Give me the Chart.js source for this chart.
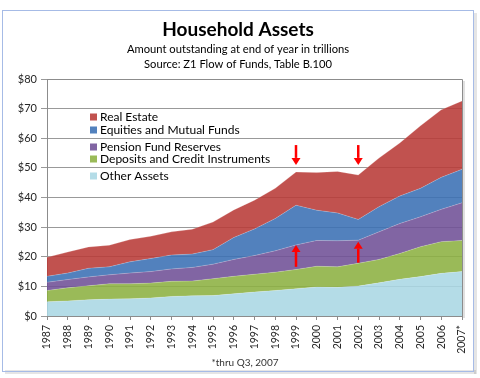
<!DOCTYPE html>
<html><head><meta charset="utf-8">
<script src="https://cdn.jsdelivr.net/npm/chart.js@4.4.0/dist/chart.umd.min.js"></script>
<style>html,body{margin:0;padding:0;background:#fff;}</style>
</head><body>
<canvas id="c" width="480" height="378"></canvas>
<script>
const years = ['1987','1988','1989','1990','1991','1992','1993','1994','1995','1996','1997','1998','1999','2000','2001','2002','2003','2004','2005','2006','2007*'];
const otherAssets   = [4.8,5.1,5.5,5.7,5.8,6.1,6.6,6.8,6.9,7.5,8.1,8.6,9.2,9.8,9.7,10.1,11.2,12.4,13.3,14.4,15.0];
const deposits      = [3.8,4.4,4.7,5.2,5.1,5.0,5.1,5.0,5.7,5.9,6.0,6.2,6.5,7.0,6.9,7.7,7.9,8.7,10.1,10.7,10.5];
const pension       = [2.8,2.8,3.0,3.0,3.6,3.9,4.2,4.6,4.9,5.7,6.3,7.2,8.3,8.7,8.8,7.8,9.3,10.1,10.1,10.9,12.7];
const equities      = [2.0,2.2,2.9,2.7,3.8,4.4,4.7,4.5,4.9,7.4,9.0,10.9,13.4,10.2,9.4,7.0,8.5,9.3,9.6,10.8,11.3];
const realEstate    = [6.4,7.1,7.2,7.3,7.5,7.5,7.8,8.4,9.3,9.3,9.7,10.2,11.2,12.7,14.0,15.0,16.4,17.9,21.1,22.8,23.1];
const yTicks = [0,10,20,30,40,50,60,70,80];
const titleText = 'Household Assets';
const subtitleLines = ['Amount outstanding at end of year in trillions','Source: Z1 Flow of Funds, Table B.100'];
const footnote = '*thru Q3, 2007';
// annotation arrows in data units (category, start value, end value)
const arrowYears = ['1999','2002','1999','2002'];
const arrowFrom  = [57.7,57.7,16.6,18.0];
const arrowTo    = [51.0,51.0,24.0,25.1];

const FONT = 'Lato, "Open Sans", sans-serif';

const series = [
  {label:'Other Assets', data:otherAssets, color:'rgba(170,215,228,0.88)'},
  {label:'Deposits and Credit Instruments', data:deposits, color:'rgba(140,177,65,0.88)'},
  {label:'Pension Fund Reserves', data:pension, color:'rgba(112,80,150,0.88)'},
  {label:'Equities and Mutual Funds', data:equities, color:'rgba(58,112,180,0.88)'},
  {label:'Real Estate', data:realEstate, color:'rgba(184,58,55,0.88)'}
];

const framePlugin = {
  id:'frame',
  beforeDraw(chart){
    const ctx = chart.ctx;
    ctx.save();
    ctx.fillStyle = '#fff';
    ctx.fillRect(0,0,chart.width,chart.height);
    ctx.fillStyle = 'rgba(0,0,0,0.10)';
    ctx.fillRect(5,370,471,4);
    ctx.fillRect(474,13,3,361);
    ctx.strokeStyle = '#a6bbe6';
    ctx.lineWidth = 1;
    ctx.strokeRect(2.5,10.5,471,361);
    ctx.restore();
  },
  afterDraw(chart){
    const ctx = chart.ctx, a = chart.chartArea;
    ctx.save();
    ctx.textAlign = 'center';
    ctx.fillStyle = '#000';
    ctx.font = 'bold 19px ' + FONT;
    ctx.textBaseline = 'middle';
    ctx.fillText(titleText, 238, 30);
    ctx.font = '11.2px ' + FONT;
    ctx.fillText(subtitleLines[0], 238, 49);
    ctx.fillText(subtitleLines[1], 238, 64);
    ctx.font = '10px ' + FONT;
    ctx.fillStyle = '#333';
    ctx.fillText(footnote, 245, 363);
    ctx.fillStyle = 'rgba(0,0,0,0.12)';
    ctx.fillRect(a.right+1, a.top+2, 2, a.bottom-a.top);
    ctx.strokeStyle = '#8c8c8c';
    ctx.lineWidth = 1;
    ctx.beginPath();
    ctx.moveTo(a.left, a.top+0.5); ctx.lineTo(a.right+0.5, a.top+0.5); ctx.lineTo(a.right+0.5, a.bottom);
    ctx.stroke();
    const rows = [117,130,147,159,176];
    ctx.font = '12px ' + FONT;
    ctx.textAlign = 'left';
    ctx.textBaseline = 'middle';
    const items = chart.data.datasets.slice().reverse();
    items.forEach((ds,i)=>{
      const y = rows[i];
      ctx.fillStyle = ds.backgroundColor;
      ctx.fillRect(90, y-3.5, 7, 7);
      ctx.fillStyle = '#000';
      ctx.fillText(ds.label, 100, y+0.5);
    });
    const xs = chart.scales.x, ys = chart.scales.y;
    ctx.fillStyle = '#ff0000';
    ctx.strokeStyle = '#ff0000';
    arrowYears.forEach((yr,i)=>{
      const idx = years.indexOf(yr);
      const x = xs.getPixelForValue(idx);
      const y0 = ys.getPixelForValue(arrowFrom[i]);
      const y1 = ys.getPixelForValue(arrowTo[i]);
      const dir = Math.sign(y1-y0);
      const head = 7;
      ctx.lineWidth = 2.5;
      ctx.beginPath();
      ctx.moveTo(x, y0); ctx.lineTo(x, y1 - dir*head);
      ctx.stroke();
      ctx.beginPath();
      ctx.moveTo(x-4.5, y1 - dir*head);
      ctx.lineTo(x+4.5, y1 - dir*head);
      ctx.lineTo(x, y1);
      ctx.closePath();
      ctx.fill();
    });
    ctx.restore();
  }
};

new Chart(document.getElementById('c'), {
  type:'line',
  data:{
    labels: years,
    datasets: series.map((s,i)=>({
      label:s.label, data:s.data,
      backgroundColor:s.color, borderColor:'rgba(255,255,255,0.25)', borderWidth:0.8,
      fill: i===0 ? 'origin' : '-1',
      pointRadius:0, tension:0
    }))
  },
  options:{
    responsive:false, animation:false, devicePixelRatio:1,
    layout:{padding:{left:0, top:79, right:18, bottom:0}},
    plugins:{legend:{display:false}, title:{display:false}, tooltip:{enabled:false}},
    scales:{
      x:{
        stacked:true, offset:false,
        grid:{display:true, drawOnChartArea:false, tickLength:4, color:'#8c8c8c'},
        border:{color:'#8c8c8c'},
        ticks:{minRotation:90, maxRotation:90, autoSkip:false, padding:5, color:'#262626', font:{family:FONT, size:10.5}},
        afterFit(s){ s.height = 62; }
      },
      y:{
        stacked:true, min:0, max:80,
        afterBuildTicks(s){ s.ticks = yTicks.map(v=>({value:v})); },
        grid:{color:'#999', tickLength:6},
        border:{color:'#8c8c8c'},
        ticks:{padding:4, color:'#262626', font:{family:FONT, size:11}, callback:v=>'$'+v},
        afterFit(s){ s.width = 47; }
      }
    }
  },
  plugins:[framePlugin]
});
</script>
</body></html>
